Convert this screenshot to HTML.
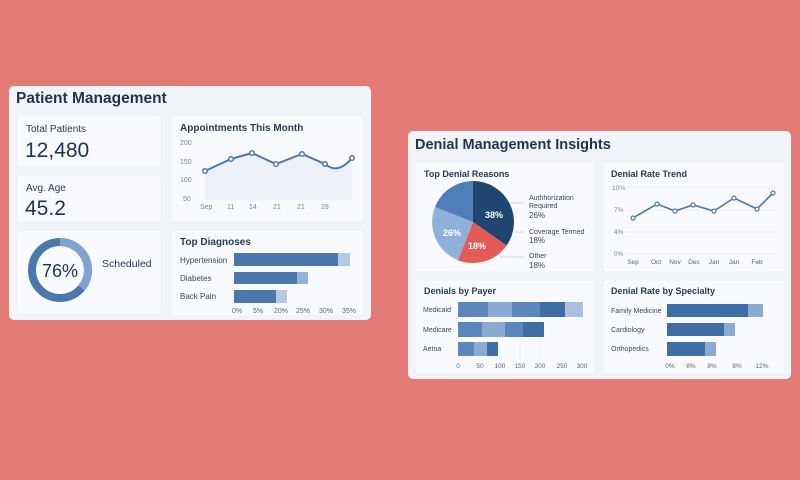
<!DOCTYPE html>
<html><head><meta charset="utf-8"><style>
html,body{margin:0;padding:0;background:#e37c77;}
svg{display:block;font-family:"Liberation Sans",sans-serif;}
</style></head><body>
<svg width="800" height="480" viewBox="0 0 800 480">
<rect width="800" height="480" fill="#e37c77"/>
<!-- Left panel -->
<rect x="9" y="86" width="362" height="234" rx="5" fill="#f1f5fa"/>
<text x="16" y="103" font-size="15.5" font-weight="bold" fill="#1f3352">Patient Management</text>
<g fill="#f8fafd" stroke="#e8edf4" stroke-width="0.6">
<rect x="17" y="115" width="144" height="52" rx="3"/>
<rect x="17" y="175" width="144" height="47" rx="3"/>
<rect x="17" y="230" width="144" height="84" rx="3"/>
<rect x="171" y="116" width="193" height="106" rx="3"/>
<rect x="171" y="230" width="193" height="86" rx="3"/>
</g>
<text x="26" y="132" font-size="10" fill="#2a3a55">Total Patients</text>
<text x="25" y="157" font-size="21" fill="#1f3352">12,480</text>
<text x="26" y="191" font-size="10" fill="#2a3a55">Avg. Age</text>
<text x="25" y="215" font-size="21" fill="#1f3352">45.2</text>
<circle cx="60" cy="270" r="28" fill="none" stroke="#4a78ad" stroke-width="8"/>
<path d="M60 242 A28 28 0 0 1 81.4 288" fill="none" stroke="#7fa3cf" stroke-width="8"/>
<text x="60" y="277" font-size="18" fill="#1f3352" text-anchor="middle">76%</text>
<text x="102" y="267" font-size="10.5" fill="#2a3a55">Scheduled</text>
<!-- appointments -->
<text x="180" y="131" font-size="10" font-weight="bold" fill="#2a3a55">Appointments This Month</text>
<g font-size="7" fill="#7a869a">
<text x="180" y="145">200</text><text x="180" y="164">150</text><text x="180" y="182">100</text><text x="183" y="201">50</text>
<text x="200" y="209">Sep</text><text x="227" y="209">11</text><text x="249" y="209">14</text><text x="273" y="209">21</text><text x="297" y="209">21</text><text x="321" y="209">28</text>
</g>
<path d="M205 171 L231 159 L252 153 L276 164 L302 154 L325 164 Q338 175 352 158 L352 200 L205 200Z" fill="#edf0f6"/>
<path d="M205 171 L231 159 L252 153 L276 164 L302 154 L325 164 Q338 175 352 158" fill="none" stroke="#4a78ad" stroke-width="2"/>
<g fill="#fff" stroke="#4a78ad" stroke-width="1.5">
<circle cx="205" cy="171" r="2.3"/><circle cx="231" cy="159" r="2.3"/><circle cx="252" cy="153" r="2.3"/><circle cx="276" cy="164" r="2.3"/><circle cx="302" cy="154" r="2.3"/><circle cx="325" cy="164" r="2.3"/><circle cx="352" cy="158" r="2.3"/>
</g>
<!-- diagnoses -->
<text x="180" y="245" font-size="10" font-weight="bold" fill="#2a3a55">Top Diagnoses</text>
<g font-size="8" fill="#3a4760">
<text x="180" y="263">Hypertension</text><text x="180" y="281">Diabetes</text><text x="180" y="299">Back Pain</text>
</g>
<rect x="234" y="253" width="116" height="13" fill="#b5c9e2"/><rect x="234" y="253" width="104" height="13" fill="#4a78ad"/>
<rect x="234" y="272" width="74" height="12" fill="#94b2d8"/><rect x="234" y="272" width="63" height="12" fill="#4a78ad"/>
<rect x="234" y="290" width="53" height="13" fill="#b5c9e2"/><rect x="234" y="290" width="42" height="13" fill="#4a78ad"/>
<g font-size="7" fill="#5a667a" text-anchor="middle">
<text x="237" y="313">0%</text><text x="258" y="313">5%</text><text x="281" y="313">20%</text><text x="303" y="313">25%</text><text x="326" y="313">30%</text><text x="349" y="313">35%</text>
</g>
<!-- Right panel -->
<rect x="408" y="131" width="383" height="248" rx="5" fill="#f1f5fa"/>
<text x="415" y="149" font-size="14.5" font-weight="bold" fill="#1f3352">Denial Management Insights</text>
<g fill="#f8fafd" stroke="#e8edf4" stroke-width="0.6">
<rect x="415" y="162" width="180" height="110" rx="3"/>
<rect x="603" y="162" width="182" height="110" rx="3"/>
<rect x="415" y="280" width="180" height="94" rx="3"/>
<rect x="603" y="280" width="182" height="94" rx="3"/>
</g>
<text x="424" y="177" font-size="9" font-weight="bold" fill="#2a3a55">Top Denial Reasons</text>
<path d="M473 222 L473 181 A41 41 0 0 1 506.6 245.5Z" fill="#1f4670"/>
<path d="M473 222 L506.6 245.5 A41 41 0 0 1 458 260.2Z" fill="#e35a56"/>
<path d="M473 222 L458 260.2 A41 41 0 0 1 435 207Z" fill="#8fb0da"/>
<path d="M473 222 L435 207 A41 41 0 0 1 473 181Z" fill="#4f7fb8"/>
<g font-size="9" fill="#fff" text-anchor="middle" font-weight="bold">
<text x="494" y="218">38%</text><text x="452" y="236">26%</text><text x="477" y="249">18%</text>
</g>
<g stroke="#c5cfdc" stroke-width="0.8"><line x1="510" y1="203" x2="524" y2="203"/><line x1="515" y1="232" x2="524" y2="232"/><line x1="500" y1="257" x2="524" y2="257"/></g>
<g font-size="7" fill="#3a4760">
<text x="529" y="200">Authhorization</text><text x="529" y="208">Required</text><text x="529" y="218" font-size="8">26%</text>
<text x="529" y="234">Coverage Termed</text><text x="529" y="243" font-size="8">18%</text>
<text x="529" y="258">Other</text><text x="529" y="268" font-size="8">18%</text>
</g>
<!-- trend -->
<text x="611" y="177" font-size="9" font-weight="bold" fill="#2a3a55">Denial Rate Trend</text>
<g stroke="#e6ebf2" stroke-width="0.7"><line x1="625" y1="187" x2="777" y2="187"/><line x1="625" y1="210" x2="777" y2="210"/><line x1="625" y1="232" x2="777" y2="232"/><line x1="625" y1="254" x2="777" y2="254"/></g>
<g font-size="6.5" fill="#7a869a">
<text x="612" y="190">10%</text><text x="614" y="212">7%</text><text x="614" y="234">4%</text><text x="614" y="256">0%</text>
</g>
<g font-size="6.5" fill="#5a667a" text-anchor="middle">
<text x="633" y="264">Sep</text><text x="656" y="264">Oct</text><text x="675" y="264">Nov</text><text x="694" y="264">Dec</text><text x="714" y="264">Jan</text><text x="734" y="264">Jan</text><text x="757" y="264">Feb</text>
</g>
<path d="M633 218 L657 204 L675 211 L693 205 L714 211 L734 198 L757 209 L773 193" fill="none" stroke="#4a78ad" stroke-width="1.6"/>
<g fill="#fff" stroke="#4a78ad" stroke-width="1.2">
<circle cx="633" cy="218" r="2"/><circle cx="657" cy="204" r="2"/><circle cx="675" cy="211" r="2"/><circle cx="693" cy="205" r="2"/><circle cx="714" cy="211" r="2"/><circle cx="734" cy="198" r="2"/><circle cx="757" cy="209" r="2"/><circle cx="773" cy="193" r="2"/>
</g>
<!-- payer -->
<text x="424" y="294" font-size="9" font-weight="bold" fill="#2a3a55">Denials by Payer</text>
<g stroke="#eef1f6" stroke-width="0.7"><line x1="480" y1="300" x2="480" y2="360"/><line x1="500" y1="300" x2="500" y2="360"/><line x1="520" y1="300" x2="520" y2="360"/><line x1="540" y1="300" x2="540" y2="360"/><line x1="562" y1="300" x2="562" y2="360"/></g>
<g font-size="7" fill="#3a4760"><text x="423" y="312">Medicaid</text><text x="423" y="332">Medicare</text><text x="423" y="351">Aetna</text></g>
<rect x="458" y="302" width="30" height="15" fill="#5b87bd"/><rect x="488" y="302" width="24" height="15" fill="#8aaad4"/><rect x="512" y="302" width="28" height="15" fill="#5b87bd"/><rect x="540" y="302" width="25" height="15" fill="#3f6ea6"/><rect x="565" y="302" width="18" height="15" fill="#a9c0e0"/>
<rect x="458" y="322" width="24" height="15" fill="#5b87bd"/><rect x="482" y="322" width="23" height="15" fill="#8aaad4"/><rect x="505" y="322" width="18" height="15" fill="#5b87bd"/><rect x="523" y="322" width="21" height="15" fill="#3f6ea6"/>
<rect x="458" y="342" width="16" height="14" fill="#5b87bd"/><rect x="474" y="342" width="13" height="14" fill="#8aaad4"/><rect x="487" y="342" width="11" height="14" fill="#3f6ea6"/>
<g font-size="6.5" fill="#5a667a" text-anchor="middle">
<text x="458" y="368">0</text><text x="480" y="368">50</text><text x="500" y="368">100</text><text x="520" y="368">150</text><text x="540" y="368">200</text><text x="562" y="368">250</text><text x="582" y="368">300</text>
</g>
<!-- specialty -->
<text x="611" y="294" font-size="9" font-weight="bold" fill="#2a3a55">Denial Rate by Specialty</text>
<g font-size="7" fill="#3a4760"><text x="611" y="313">Family Medicine</text><text x="611" y="332">Cardiology</text><text x="611" y="351">Orthopedics</text></g>
<rect x="667" y="304" width="96" height="13" fill="#8aaad4"/><rect x="667" y="304" width="81" height="13" fill="#3f6ea6"/>
<rect x="667" y="323" width="68" height="13" fill="#8aaad4"/><rect x="667" y="323" width="57" height="13" fill="#3f6ea6"/>
<rect x="667" y="342" width="49" height="14" fill="#8aaad4"/><rect x="667" y="342" width="38" height="14" fill="#3f6ea6"/>
<g font-size="6.5" fill="#5a667a" text-anchor="middle">
<text x="670" y="368">0%</text><text x="691" y="368">8%</text><text x="712" y="368">8%</text><text x="737" y="368">8%</text><text x="762" y="368">12%</text>
</g>
</svg>
</body></html>
